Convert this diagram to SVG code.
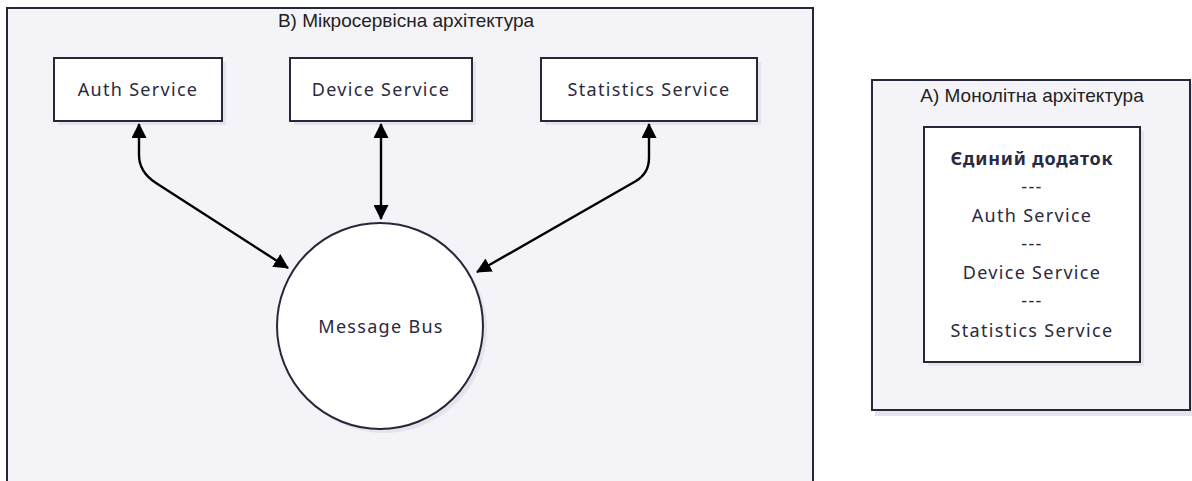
<svg xmlns="http://www.w3.org/2000/svg" width="1192" height="481" viewBox="0 0 1192 481">
<defs>
<style>
.cluster{fill:#f4f4f8;stroke:#27273b;stroke-width:2}
.node{fill:#ffffff;stroke:#27273b;stroke-width:2}
.shadow{fill:#e4e4ea;stroke:none}
.ctitle{font-family:"Liberation Sans",Arial,sans-serif;font-size:19px;fill:#222222;text-anchor:middle}
.label{font-family:"Noto Sans","Open Sans",sans-serif;font-size:18px;letter-spacing:1.3px;fill:#2a2a40;text-anchor:middle}
.bold{font-weight:bold;letter-spacing:0.8px}
.edge{fill:none;stroke:#000000;stroke-width:2.4}
</style>
<marker id="ah" viewBox="0 0 15 15" refX="14" refY="7.5" markerWidth="15" markerHeight="15" markerUnits="userSpaceOnUse" orient="auto-start-reverse">
<path d="M0,0 L15,7.5 L0,15 Z" fill="#000000"/>
</marker>
</defs>
<rect width="1192" height="481" fill="#ffffff"/>

<g id="cluster-micro">
<rect class="cluster" x="7" y="8" width="806" height="490"/>
<text class="ctitle" x="406" y="27">В) Мікросервісна архітектура</text>
</g>

<g id="cluster-mono">
<rect class="shadow" x="875" y="83" width="318" height="333"/>
<rect class="cluster" x="872" y="80" width="318" height="330"/>
<text class="ctitle" x="1032" y="102">А) Монолітна архітектура</text>
</g>

<g id="node-auth">
<rect class="shadow" x="58" y="62" width="168" height="63"/>
<rect class="node" x="54" y="58" width="168" height="63"/>
<text class="label" x="138" y="96">Auth Service</text>
</g>

<g id="node-device">
<rect class="shadow" x="294" y="62" width="182" height="63"/>
<rect class="node" x="290" y="58" width="182" height="63"/>
<text class="label" x="381" y="96">Device Service</text>
</g>

<g id="node-stats">
<rect class="shadow" x="545" y="62" width="216" height="63"/>
<rect class="node" x="541" y="58" width="216" height="63"/>
<text class="label" x="649" y="96">Statistics Service</text>
</g>

<g id="node-bus">
<circle class="shadow" cx="384" cy="330" r="103"/>
<circle class="node" cx="380" cy="326" r="103"/>
<text class="label" x="381" y="333">Message Bus</text>
</g>

<g id="node-monolith">
<rect class="shadow" x="928" y="131" width="216" height="235"/>
<rect class="node" x="924" y="127" width="216" height="235"/>
<text class="label bold" x="1032" y="165">Єдиний додаток</text>
<text class="label" x="1032" y="193">---</text>
<text class="label" x="1032" y="222">Auth Service</text>
<text class="label" x="1032" y="250">---</text>
<text class="label" x="1032" y="279">Device Service</text>
<text class="label" x="1032" y="307">---</text>
<text class="label" x="1032" y="337">Statistics Service</text>
</g>

<g id="connectors">
<path class="edge" d="M288,268 L156,183 Q139,172 139,155 L139,124" marker-start="url(#ah)" marker-end="url(#ah)"/>
<path class="edge" d="M381,124 L381,219" marker-start="url(#ah)" marker-end="url(#ah)"/>
<path class="edge" d="M477,272 L636,181 Q649,173 649,158 L649,124" marker-start="url(#ah)" marker-end="url(#ah)"/>
</g>
</svg>
